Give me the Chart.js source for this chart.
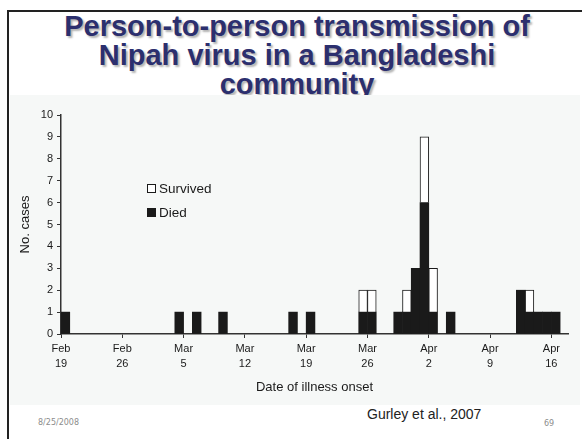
<!DOCTYPE html>
<html>
<head>
<meta charset="utf-8">
<script src="https://cdn.jsdelivr.net/npm/chart.js@4.4.1/dist/chart.umd.min.js"></script>
<style>
  html, body { margin: 0; padding: 0; background: #fff; }
  body { width: 582px; height: 439px; position: relative; overflow: hidden;
         font-family: 'Liberation Sans', Arial, sans-serif; }
  .frame-top { position: absolute; left: 7px; top: 10px; right: 0; height: 2px; background: #222; }
  .frame-left { position: absolute; left: 7px; top: 10px; width: 2px; bottom: 0; background: #222; }
  .title { position: absolute; left: 12px; right: 0; top: 12px; text-align: center;
           color: #2c2f6e; font-weight: bold; font-size: 29px; line-height: 29px;
           text-shadow: 2px 2px 2px rgba(0,0,0,0.3); }
  .panel { position: absolute; left: 10px; top: 95px; width: 570px; height: 310px; background: #f6f8f7; }
  .legend { position: absolute; left: 137px; top: 82px; font-size: 13.5px; color: #1a1a1a; line-height: 24px; }
  .legend .sw { display: inline-block; width: 7px; height: 7px; margin-right: 3px; vertical-align: 0px; }
  .legend .surv { border: 1px solid #1a1a1a; background: #fff; }
  .legend .died { border: 1px solid #1a1a1a; background: #1a1a1a; }
  .cite { position: absolute; left: 367px; top: 406px; font-size: 14px; color: #222; }
  .date { position: absolute; left: 38px; top: 418px; font-size: 8px; color: #8c8c8c; font-family: 'DejaVu Sans', sans-serif; }
  .page { position: absolute; left: 544px; top: 419px; font-size: 8px; color: #8c8c8c; font-family: 'DejaVu Sans', sans-serif; }
</style>
</head>
<body>
<div class="title">Person-to-person transmission of<br>Nipah virus in a Bangladeshi<br>community</div>
<div class="panel">
  <canvas id="chart" width="570" height="310"></canvas>
  <div class="legend">
    <div><span class="sw surv"></span>Survived</div>
    <div><span class="sw died"></span>Died</div>
  </div>
</div>
<div class="frame-top"></div>
<div class="frame-left"></div>
<div class="cite">Gurley et al., 2007</div>
<div class="date">8/25/2008</div>
<div class="page">69</div>

<script>
// Onset day, counted in days after Feb 19 (each bar covers one day)
const onsetDay = [0, 13, 15, 18, 26, 28, 34, 35, 38, 39, 40, 41, 42, 44, 52, 53, 54, 55, 56];
// Cases per onset day
const died     = [1, 1, 1, 1, 1, 1, 1, 1, 1, 1, 3, 6, 1, 1, 2, 1, 1, 1, 1];
const survived = [0, 0, 0, 0, 0, 0, 1, 1, 0, 1, 0, 3, 2, 0, 0, 1, 0, 0, 0];
// Weekly x-axis ticks
const tickDays   = [0, 7, 14, 21, 28, 35, 42, 49, 56];
const tickLabels = [['Feb', '19'], ['Feb', '26'], ['Mar', '5'], ['Mar', '12'], ['Mar', '19'],
                    ['Mar', '26'], ['Apr', '2'], ['Apr', '9'], ['Apr', '16']];
const yTicks = [0, 1, 2, 3, 4, 5, 6, 7, 8, 9, 10];

const toPoints = vals => onsetDay.map((d, i) => ({ x: d + 0.5, y: vals[i] }));

const FONT = "'Liberation Sans', Arial, sans-serif";
const INK = '#1a1a1a';

new Chart(document.getElementById('chart'), {
  type: 'bar',
  data: {
    datasets: [
      { label: 'Died', data: toPoints(died), backgroundColor: INK, borderWidth: 0,
        barPercentage: 1, categoryPercentage: 1 },
      { label: 'Survived', data: toPoints(survived), backgroundColor: '#ffffff', borderColor: INK,
        borderWidth: 1, borderSkipped: 'bottom', barPercentage: 1, categoryPercentage: 1 }
    ]
  },
  options: {
    responsive: false,
    devicePixelRatio: 1,
    animation: false,
    layout: { padding: { left: 0, top: 20, right: 12, bottom: 0 } },
    plugins: { legend: { display: false }, tooltip: { enabled: false } },
    scales: {
      x: {
        type: 'linear', stacked: true, offset: false, min: 0, max: 57.9,
        afterFit: s => { s.height = 71; },
        afterBuildTicks: s => { s.ticks = tickDays.map(v => ({ value: v })); },
        grid: { offset: false, drawOnChartArea: false, drawTicks: true, tickLength: 4, color: '#333' },
        border: { display: true, color: '#333', width: 1.5 },
        ticks: {
          autoSkip: false, maxRotation: 0, padding: 4, color: '#1a1a1a',
          font: { family: FONT, size: 11, lineHeight: 1.35 },
          callback: (v, i) => tickLabels[i]
        },
        title: { display: true, text: 'Date of illness onset', color: '#1a1a1a',
                 font: { family: FONT, size: 13 }, padding: { top: 0, bottom: 10 } }
      },
      y: {
        stacked: true, min: 0, max: 10,
        afterFit: s => { s.width = 51; },
        afterBuildTicks: s => { s.ticks = yTicks.map(v => ({ value: v })); },
        grid: { drawOnChartArea: false, drawTicks: true, tickLength: 4, color: '#333' },
        border: { display: true, color: '#333', width: 1.5 },
        ticks: { padding: 4, color: '#1a1a1a', font: { family: FONT, size: 11 } },
        title: { display: true, text: 'No. cases', color: '#1a1a1a',
                 font: { family: FONT, size: 13 }, padding: { top: 8, bottom: 0 } }
      }
    }
  }
});
</script>
</body>
</html>
